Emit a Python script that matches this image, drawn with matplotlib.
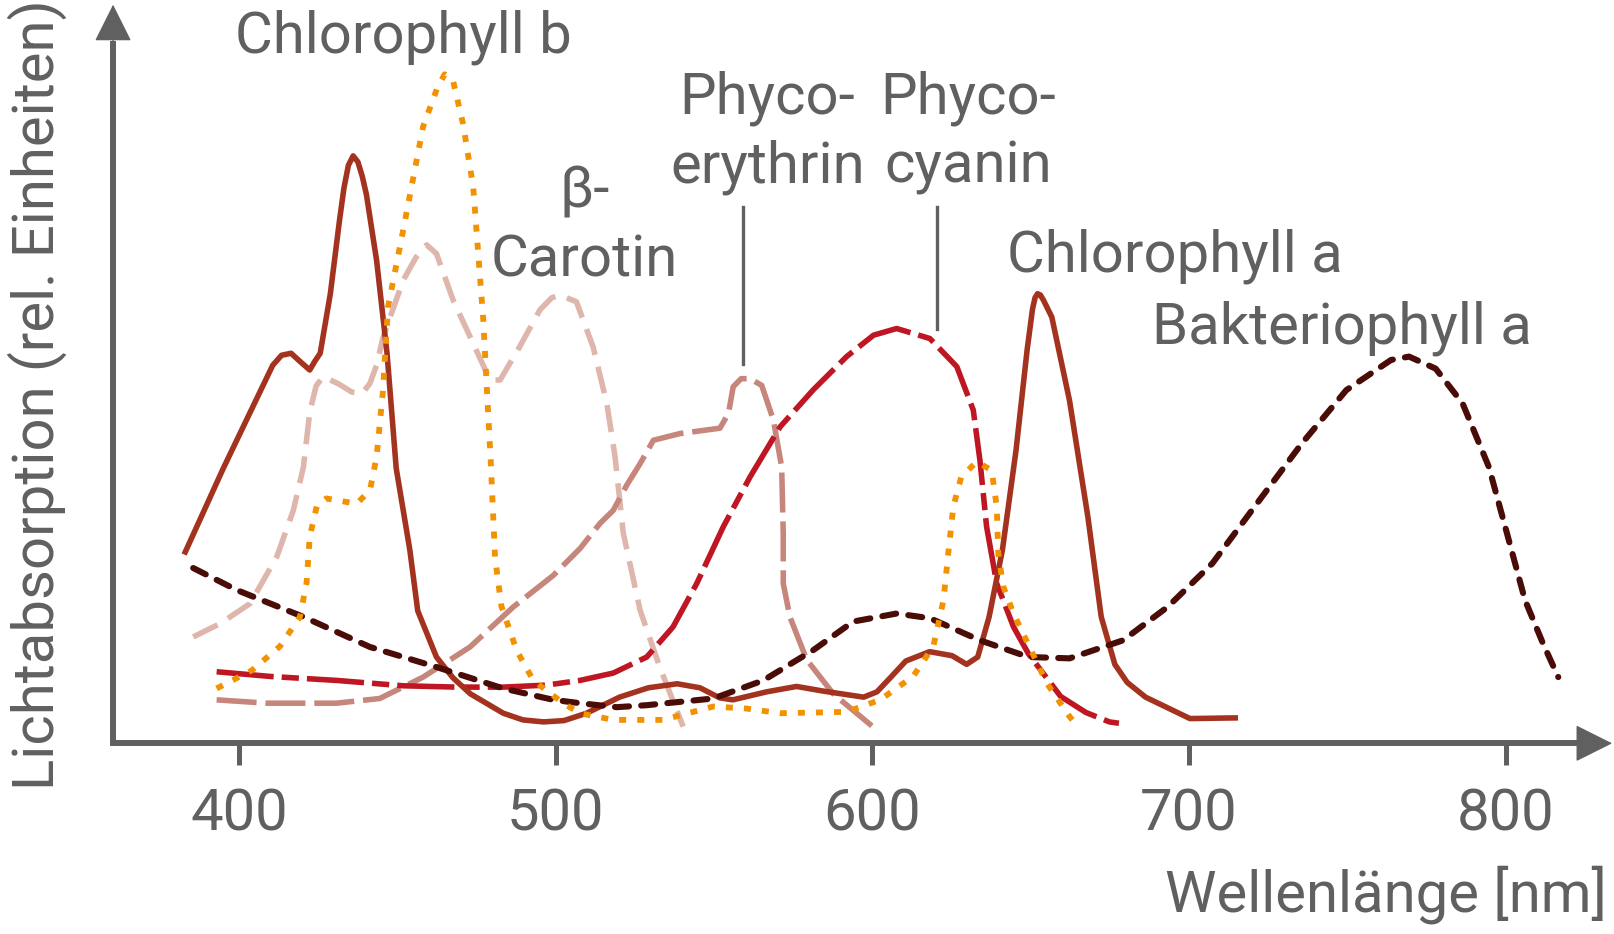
import matplotlib
matplotlib.use("Agg")
import matplotlib.pyplot as plt

plt.rcParams['font.family'] = ['Roboto', 'DejaVu Sans']

# wavelength (nm) / relative absorption
chl_a_nm = [383.1, 395.1, 410.7, 413.5, 416.5, 419.5, 422.4, 424.0, 425.7, 428.9, 431.8, 433.2, 434.6, 436.1,
            437.6, 439.0, 440.3, 443.5, 446.8, 449.7, 454.0, 456.5, 462.4, 467.6, 473.1, 483.5, 489.7, 496.2,
            502.7, 509.8, 520.2, 529.3, 538.4, 545.6, 551.8, 556.0, 566.7, 576.1, 584.6, 597.3, 601.5, 605.7,
            610.6, 618.1, 625.2, 629.8, 633.3, 636.9, 641.1, 645.4, 648.9, 650.6, 651.4, 652.2, 653.1, 654.1,
            656.7, 662.3, 668.1, 672.3, 676.6, 680.5, 686.3, 700.3, 714.6]
chl_a_abs = [28.6, 41.1, 56.5, 58.0, 58.3, 57.0, 55.8, 57.1, 58.3, 67.2, 78.2, 83.0, 86.4, 87.8,
             86.9, 84.7, 82.0, 72.2, 58.3, 41.1, 28.9, 19.8, 12.9, 9.8, 7.4, 4.5, 3.5, 3.2,
             3.4, 4.5, 6.9, 8.3, 8.9, 8.3, 6.8, 6.5, 7.7, 8.5, 7.8, 6.9, 7.7, 9.8,
             12.3, 13.7, 13.1, 11.8, 12.9, 18.9, 28.9, 43.8, 58.8, 64.9, 66.6, 67.2, 67.0, 66.2,
             63.7, 51.2, 33.8, 18.9, 11.8, 9.1, 6.9, 3.7, 3.8]

chl_b_nm = [393.0, 404.1, 413.0, 419.3, 421.4, 422.4, 424.6, 427.6, 432.5, 437.2, 441.4, 443.5, 445.5, 447.1,
            451.9, 458.2, 462.7, 465.0, 467.6, 470.8, 474.0, 475.6, 477.2, 478.3, 479.5, 480.9, 482.9, 487.7,
            493.0, 502.4, 507.7, 518.2, 533.9, 549.8, 560.2, 570.9, 591.9, 602.5, 612.9, 619.3, 622.5, 624.0,
            625.6, 628.1, 633.0, 637.7, 639.3, 639.8, 641.4, 644.6, 655.1, 662.3, 665.2]
chl_b_abs = [8.2, 10.9, 14.5, 18.9, 24.0, 30.9, 35.4, 36.6, 36.2, 35.8, 37.8, 42.8, 52.6, 65.2,
             76.7, 92.2, 98.0, 100.0, 99.1, 92.6, 83.2, 73.2, 63.2, 53.2, 42.6, 27.8, 20.5, 13.9,
             9.4, 6.0, 4.5, 3.5, 3.5, 5.5, 5.2, 4.5, 4.7, 6.5, 10.0, 14.5, 21.4, 28.4,
             35.4, 39.8, 42.1, 40.8, 35.4, 28.4, 23.4, 19.4, 9.0, 4.0, 2.3]

carotin_nm = [385.6, 394.1, 403.6, 412.0, 417.2, 420.4, 422.4, 424.4, 426.6, 431.2, 435.7, 439.0, 441.4, 443.5,
              445.6, 451.9, 455.9, 459.3, 462.4, 467.7, 473.0, 479.3, 482.5, 488.7, 495.1, 498.8, 501.4, 506.6,
              511.9, 516.2, 518.8, 521.4, 526.7, 532.9, 540.3]
carotin_abs = [15.9, 17.9, 20.9, 27.9, 34.8, 41.3, 49.5, 53.4, 54.8, 53.8, 52.5, 52.3, 53.8, 56.5,
               60.8, 69.2, 72.6, 74.5, 73.2, 66.2, 60.8, 54.3, 54.3, 59.3, 64.8, 66.6, 67.0, 66.0,
               59.2, 50.8, 42.8, 31.4, 19.9, 11.4, 2.5]

erythrin_nm = [393.0, 408.8, 430.9, 444.5, 458.2, 473.0, 486.7, 499.3, 507.7, 514.1, 518.2, 522.5, 526.7, 530.9,
               539.3, 551.9, 554.6, 556.1, 558.6, 561.4, 565.1, 568.8, 571.4, 571.9, 571.9, 574.0, 579.3, 587.7,
               601.4]
erythrin_abs = [6.5, 6.0, 6.0, 6.7, 9.9, 14.4, 20.4, 25.1, 29.1, 32.9, 34.8, 38.6, 41.8, 45.3,
                46.3, 47.1, 49.3, 53.3, 54.5, 54.5, 53.5, 48.3, 41.3, 31.4, 23.9, 18.9, 12.5, 7.4,
                2.0]

cyanin_nm = [393.0, 409.8, 430.9, 451.9, 468.8, 483.5, 497.2, 507.7, 518.2, 528.8, 537.1, 544.6, 553.0, 561.4,
             570.9, 581.3, 591.9, 600.4, 607.7, 618.2, 626.7, 631.9, 634.0, 636.1, 639.3, 644.6, 649.3, 659.5,
             667.5, 674.9, 677.9]
cyanin_abs = [10.7, 10.0, 9.4, 8.6, 8.4, 8.4, 8.7, 9.4, 10.5, 12.9, 17.4, 23.9, 32.4, 39.8,
              47.3, 52.8, 57.8, 61.0, 62.0, 60.5, 56.3, 49.8, 42.3, 32.4, 23.9, 17.4, 13.4, 7.0,
              4.6, 3.2, 3.0]

bakt_nm = [385.6, 399.4, 420.4, 441.4, 462.4, 483.5, 499.3, 507.7, 519.3, 528.8, 549.8, 565.6, 581.3, 594.0,
           607.7, 618.2, 634.0, 649.3, 662.3, 679.2, 693.3, 707.4, 721.4, 735.6, 749.7, 763.8, 769.5, 777.9,
           786.4, 794.7, 800.4, 806.1, 811.8, 816.6]
bakt_abs = [26.2, 22.9, 18.9, 14.4, 11.4, 8.2, 6.5, 6.0, 5.4, 5.7, 6.7, 9.4, 13.9, 18.2,
            19.4, 18.7, 15.4, 12.9, 12.7, 15.4, 20.4, 26.9, 35.8, 44.8, 52.8, 57.3, 57.8, 56.0,
            50.8, 41.3, 31.4, 21.4, 14.9, 9.9]

tick_nm = [400, 500, 600, 700, 800]
tick_labels = ['400', '500', '600', '700', '800']

gray = '#606060'
fs = 41.8

fig = plt.figure(figsize=(16.14, 9.34), dpi=100)
ax = fig.add_axes([0, 0, 1, 1])
ax.set_xlim(324.6, 834.2)
ax.set_ylim(-28.5, 111.1)
ax.axis('off')

# curves
ax.plot(carotin_nm, carotin_abs, color='#DEB6AC', lw=4.0, dashes=(4.9, 2.2), solid_joinstyle='round')
ax.plot(erythrin_nm, erythrin_abs, color='#C7867B', lw=4.0, dashes=(7.2, 1.6), solid_joinstyle='round')
ax.plot(cyanin_nm, cyanin_abs, color='#BE1622', lw=4.0, dashes=(10.3, 1.45, 3.1, 1.45))
ax.plot(chl_a_nm, chl_a_abs, color='#A3321F', lw=4.0, solid_joinstyle='round')
ax.plot(bakt_nm, bakt_abs, color='#4A0C07', lw=4.4, dashes=(2.3, 2.0), dash_capstyle='round')
ax.plot(chl_b_nm, chl_b_abs, color='#F39200', lw=4.2, dashes=(1.2, 1.9))

# axes with arrows
x0 = 360.3
ax.plot([x0, x0, 826], [105, 0, 0], color=gray, lw=4.3, solid_joinstyle='miter', solid_capstyle='butt')
ax.annotate('', xy=(x0, 110.4), xytext=(x0, 100),
            arrowprops=dict(arrowstyle='-|>', color=gray, lw=1, mutation_scale=60, shrinkA=0, shrinkB=0))
ax.annotate('', xy=(833.6, 0), xytext=(820, 0),
            arrowprops=dict(arrowstyle='-|>', color=gray, lw=1, mutation_scale=60, shrinkA=0, shrinkB=0))
ax.vlines(tick_nm, -3.3, 0, color=gray, lw=3.6)
for t, lab in zip(tick_nm, tick_labels):
    ax.text(t, -13.1, lab, ha='center', va='baseline', fontsize=fs, color=gray)

ax.text(832.0, -25.1, 'Wellenlänge [nm]', ha='right', va='baseline', fontsize=fs, color=gray)
ax.text(341.6, -7.0, 'Lichtabsorption (rel. Einheiten)', rotation=90, rotation_mode='anchor',
        ha='left', va='baseline', fontsize=fs, color=gray)

# labels
ax.text(398.8, 103.2, 'Chlorophyll b', ha='left', va='baseline', fontsize=fs, color=gray)
ax.text(509.1, 80.16, 'β-', ha='center', va='baseline', fontsize=fs, color=gray)
ax.text(509.1, 69.7, 'Carotin', ha='center', va='baseline', fontsize=fs, color=gray)
ax.text(566.9, 94.2, 'Phyco-', ha='center', va='baseline', fontsize=fs, color=gray)
ax.text(566.9, 83.75, 'erythrin', ha='center', va='baseline', fontsize=fs, color=gray)
ax.text(630.4, 94.2, 'Phyco-', ha='center', va='baseline', fontsize=fs, color=gray)
ax.text(630.4, 83.75, 'cyanin', ha='center', va='baseline', fontsize=fs, color=gray)
ax.text(642.5, 70.45, 'Chlorophyll a', ha='left', va='baseline', fontsize=fs, color=gray)
ax.text(688.3, 59.8, 'Bakteriophyll a', ha='left', va='baseline', fontsize=fs, color=gray)

# leader lines
ax.plot([559.1, 559.1], [80.2, 56.7], color=gray, lw=2.4)
ax.plot([620.5, 620.5], [80.2, 62.0], color=gray, lw=2.4)

fig.savefig('out.png', dpi=100)
